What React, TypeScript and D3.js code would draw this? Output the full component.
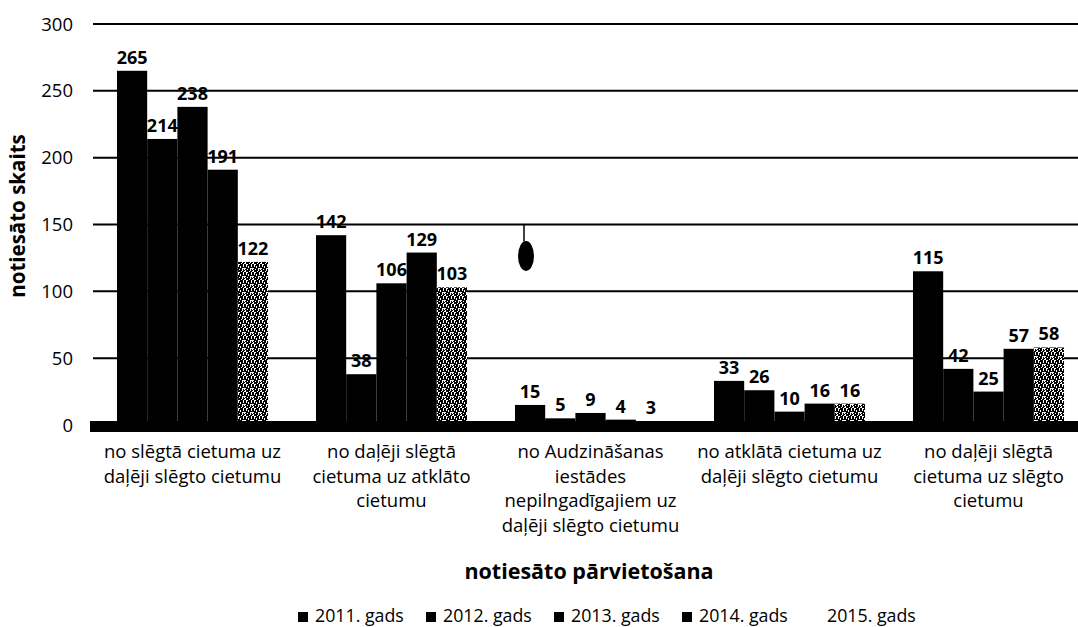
import React from "react";
import * as d3 from "d3";

const categories: string[][] = [
  ["no slēgtā cietuma uz", "daļēji slēgto cietumu"],
  ["no daļēji slēgtā", "cietuma uz atklāto", "cietumu"],
  ["no Audzināšanas", "iestādes", "nepilngadīgajiem uz", "daļēji slēgto cietumu"],
  ["no atklātā cietuma uz", "daļēji slēgto cietumu"],
  ["no daļēji slēgtā", "cietuma uz slēgto", "cietumu"],
];
const years = ["2011. gads", "2012. gads", "2013. gads", "2014. gads", "2015. gads"];
const values2011 = [265, 142, 15, 33, 115];
const values2012 = [214, 38, 5, 26, 42];
const values2013 = [238, 106, 9, 10, 25];
const values2014 = [191, 129, 4, 16, 57];
const values2015 = [122, 103, 3, 16, 58];
const seriesValues = [values2011, values2012, values2013, values2014, values2015];
const yTicks = [0, 50, 100, 150, 200, 250, 300];
const yTitle = "notiesāto skaits";
const xTitle = "notiesāto pārvietošana";

const W = 1078;
const H = 627;
const FONT = "'Open Sans', 'Noto Sans', sans-serif";

export default function App() {
  const y = d3.scaleLinear().domain([0, 300]).range([425, 24]);
  const x0 = d3
    .scaleBand<number>()
    .domain(categories.map((_, i) => i))
    .range([93, 1088])
    .paddingInner(0.241)
    .paddingOuter(0.1205);
  const x1 = d3.scaleBand<string>().domain(years).range([0, x0.bandwidth()]).padding(0);

  const fills = ["#000", "#000", "#000", "#000", "url(#stipple)"];

  // fixed speckle texture for the 2015 series (scanned stipple look)
  const specks: [number, number, number, number][] = [
    [0, 0, 3, 2], [4, 0, 2, 3], [7, 1, 1, 2], [1, 2, 2, 2], [3, 3, 3, 1],
    [6, 3, 2, 2], [0, 4, 2, 3], [3, 5, 1, 2], [5, 5, 2, 1], [6, 6, 2, 2],
    [2, 7, 2, 1], [4, 6, 1, 1], [0, 7, 1, 1],
  ];

  const legendStart = 298;
  const legendStep = 128;

  return (
    <div style={{ position: "fixed", left: 0, top: 0, width: W, height: H, background: "#fff" }}>
      <svg width={W} height={H} style={{ display: "block" }} fontFamily={FONT}>
        <defs>
          <pattern id="stipple" patternUnits="userSpaceOnUse" width={8} height={8}>
            <rect width={8} height={8} fill="#fff" />
            {specks.map((s, i) => (
              <rect key={i} x={s[0]} y={s[1]} width={s[2]} height={s[3]} fill="#000" />
            ))}
          </pattern>
        </defs>
        <rect width={W} height={H} fill="#fff" />

        {/* gridlines */}
        {yTicks
          .filter((t) => t > 0)
          .map((t) => (
            <line key={t} x1={93} x2={W} y1={y(t)} y2={y(t)} stroke="#000" strokeWidth={2} />
          ))}

        {/* tick labels */}
        {yTicks.map((t) => (
          <text key={t} x={73} y={y(t)} dy="0.36em" textAnchor="end" fontSize={18.5} fill="#000">
            {t}
          </text>
        ))}

        {/* bars and value labels, series by series */}
        {seriesValues.map((vals, si) => (
          <g key={si}>
            {vals.map((v, ci) => {
              const bx = (x0(ci) as number) + (x1(years[si]) as number);
              return (
                <rect
                  key={ci}
                  x={bx}
                  y={y(v)}
                  width={x1.bandwidth()}
                  height={y(0) - y(v)}
                  fill={fills[si]}
                />
              );
            })}
            {vals.map((v, ci) => {
              const bx = (x0(ci) as number) + (x1(years[si]) as number) + x1.bandwidth() / 2;
              return (
                <text
                  key={ci}
                  x={bx}
                  y={y(v) - 7}
                  textAnchor="middle"
                  fontSize={18}
                  fontWeight={700}
                  fill="#000"
                >
                  {v}
                </text>
              );
            })}
          </g>
        ))}

        {/* zero line (thick) */}
        <rect x={90} y={y(0) - 4} width={W - 90} height={11} fill="#000" />

        {/* scan blot */}
        <line x1={524} x2={524} y1={y(150)} y2={y(150) + 17} stroke="#000" strokeWidth={1.5} />
        <ellipse cx={526} cy={256} rx={8} ry={15} fill="#000" />

        {/* category labels */}
        {categories.map((lines, ci) => (
          <text
            key={ci}
            x={(x0(ci) as number) + x0.bandwidth() / 2}
            y={458}
            textAnchor="middle"
            fontSize={18.5}
            fill="#000"
          >
            {lines.map((l, li) => (
              <tspan key={li} x={(x0(ci) as number) + x0.bandwidth() / 2} dy={li === 0 ? 0 : 24.5}>
                {l}
              </tspan>
            ))}
          </text>
        ))}

        {/* axis titles */}
        <text x={589} y={579} textAnchor="middle" fontSize={21.5} fontWeight={700} fill="#000">
          {xTitle}
        </text>
        <text
          transform={`translate(25,216) rotate(-90)`}
          textAnchor="middle"
          fontSize={20.5}
          fontWeight={700}
          fill="#000"
        >
          {yTitle}
        </text>

        {/* legend */}
        {years.map((yr, i) => {
          const lx = legendStart + i * legendStep;
          return (
            <g key={yr}>
              <rect x={lx} y={612} width={10} height={10} fill={i < 4 ? "#000" : "#fff"} />
              <text x={lx + 17} y={622} fontSize={17.8} fill="#000">
                {yr}
              </text>
            </g>
          );
        })}
      </svg>
    </div>
  );
}
